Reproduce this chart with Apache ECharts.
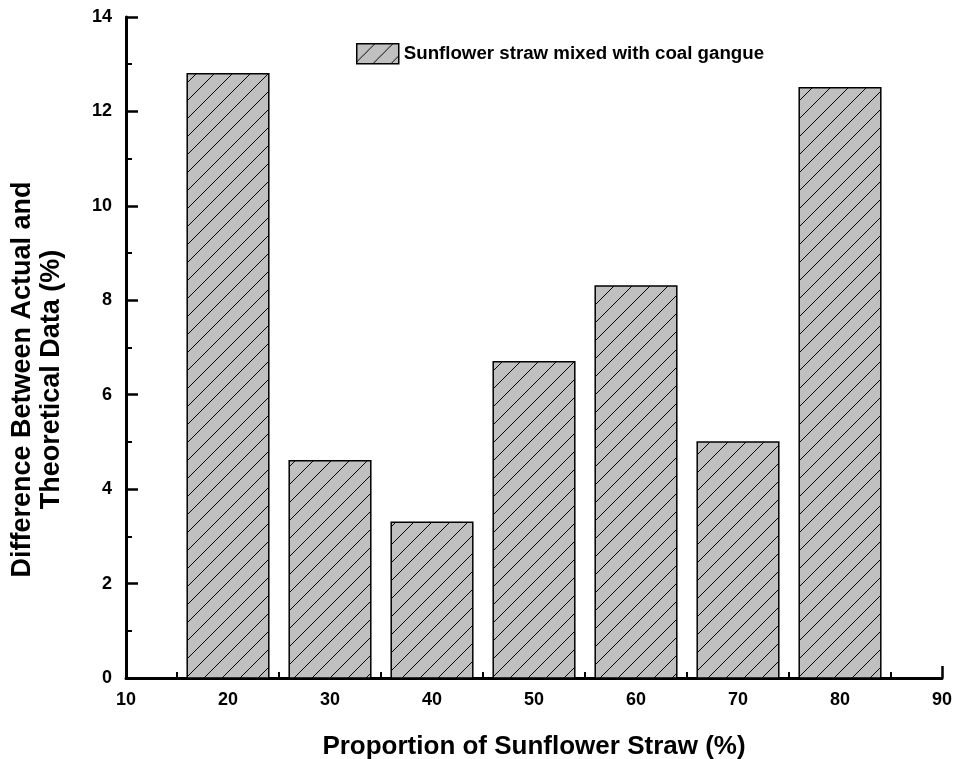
<!DOCTYPE html>
<html>
<head>
<meta charset="UTF-8">
<script src="https://cdn.jsdelivr.net/npm/echarts@6/dist/echarts.min.js"></script>
</head>
<body style="margin:0;">
<div id="chart" style="width:954px;height:759px;"></div>
<script type="text/javascript">
// proportion of sunflower straw (%) and the difference values (%)
var proportions = [20, 30, 40, 50, 60, 70, 80];
var differences = [12.8, 4.6, 3.3, 6.7, 8.3, 5.0, 12.5];
var barSpan = 8;   // bar width in x-axis units
var seriesName = 'Sunflower straw mixed with coal gangue';

// hatch tile: grey with "/" lines
function makeHatch() {
    var c = document.createElement('canvas');
    c.width = 18; c.height = 18;
    var ctx = c.getContext('2d');
    ctx.fillStyle = '#c0c0c0';
    ctx.fillRect(0, 0, 18, 18);
    ctx.strokeStyle = '#000';
    ctx.lineWidth = 1;
    ctx.beginPath();
    ctx.moveTo(-1, 19); ctx.lineTo(19, -1);
    ctx.moveTo(-10, 10); ctx.lineTo(10, -10);
    ctx.moveTo(8, 28); ctx.lineTo(28, 8);
    ctx.stroke();
    return c;
}
var hatch = { image: makeHatch(), repeat: 'repeat' };

var data = [];
for (var i = 0; i < proportions.length; i++) {
    data.push([proportions[i], differences[i]]);
}

var chart = echarts.init(document.getElementById('chart'));
var font = 'Arial, "Liberation Sans", sans-serif';

var option = {
    animation: false,
    textStyle: { fontFamily: font },
    grid: { left: 126, right: 12, top: 17, bottom: 81, outerBoundsMode: 'none' },
    legend: {
        top: 43, left: 356, padding: 0,
        itemWidth: 42, itemHeight: 20, itemGap: 4,
        textStyle: { fontSize: 18.7, fontWeight: 'bold', color: '#000', fontFamily: font },
        data: [{ name: seriesName, icon: 'rect',
                 itemStyle: { color: hatch, borderColor: '#000', borderWidth: 1.5 } }]
    },
    xAxis: {
        type: 'value', min: 10, max: 90, interval: 10,
        name: 'Proportion of Sunflower Straw (%)',
        nameLocation: 'middle', nameGap: 56,
        nameTextStyle: { fontSize: 26, fontWeight: 'bold', color: '#000', fontFamily: font },
        axisLine: { lineStyle: { color: '#000', width: 3 } },
        axisTick: { inside: true, length: 12, lineStyle: { color: '#000', width: 2.5 } },
        minorTick: { show: true, splitNumber: 2, length: 6, lineStyle: { color: '#000', width: 2 } },
        axisLabel: { fontSize: 18, fontWeight: 'bold', color: '#000', margin: 13 },
        splitLine: { show: false }
    },
    yAxis: {
        type: 'value', min: 0, max: 14, interval: 2,
        name: 'Difference Between Actual and\nTheoretical Data (%)',
        nameLocation: 'middle', nameGap: 60, nameRotate: 90,
        nameTextStyle: { fontSize: 27, fontWeight: 'bold', color: '#000', fontFamily: font,
                         lineHeight: 29, padding: [0, 64, 0, 0] },
        axisLine: { show: true, lineStyle: { color: '#000', width: 3 } },
        axisTick: { show: true, inside: true, length: 12, lineStyle: { color: '#000', width: 2.5 } },
        minorTick: { show: true, splitNumber: 2, length: 6, lineStyle: { color: '#000', width: 2 } },
        axisLabel: { fontSize: 18, fontWeight: 'bold', color: '#000', margin: 14 },
        splitLine: { show: false }
    },
    series: [{
        name: seriesName,
        type: 'custom',
        itemStyle: { color: hatch },
        encode: { x: 0, y: 1 },
        renderItem: function (params, api) {
            var x = api.value(0), y = api.value(1);
            var p0 = api.coord([x - barSpan / 2, y]);
            var p1 = api.coord([x + barSpan / 2, 0]);
            return {
                type: 'rect',
                shape: { x: p0[0], y: p0[1], width: p1[0] - p0[0], height: p1[1] - p0[1] },
                style: { fill: hatch, stroke: '#000', lineWidth: 1.5 }
            };
        },
        data: data
    }]
};
chart.setOption(option);
</script>
</body>
</html>
